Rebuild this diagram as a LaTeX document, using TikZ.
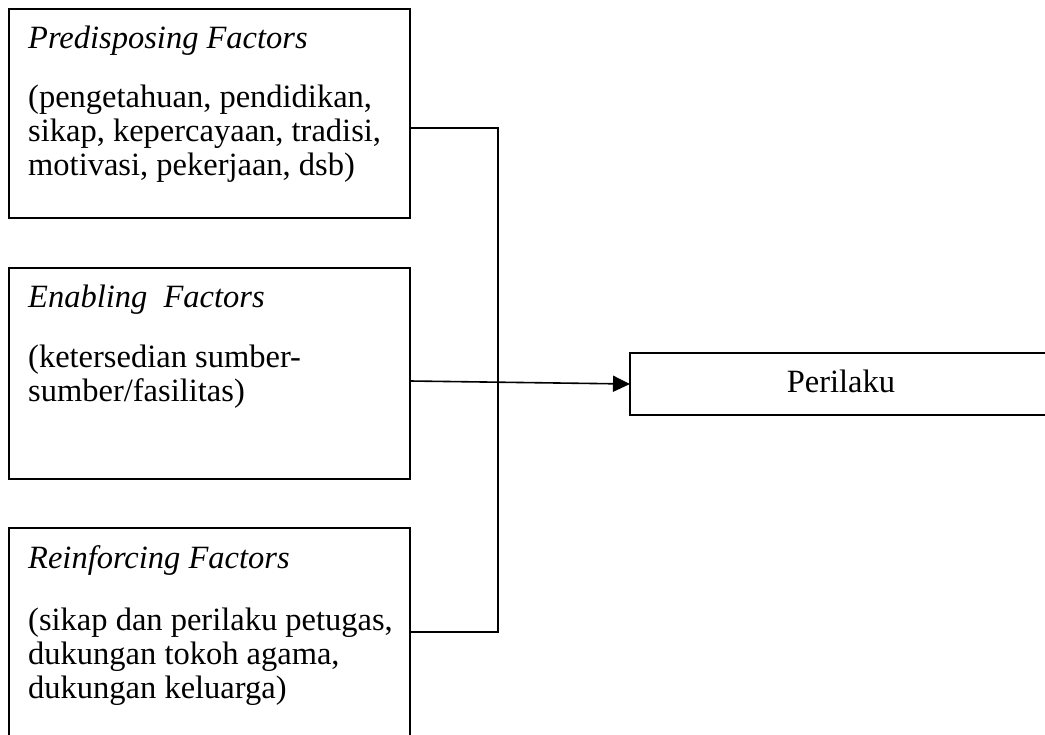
\documentclass[tikz,border=0pt]{standalone}
\usepackage{fontspec}
\setmainfont{Liberation Serif}
\usetikzlibrary{arrows.meta}
\tikzset{
  box/.style={draw=black, line width=1.6pt, rectangle, inner sep=0pt, outer sep=0pt},
  txt/.style={anchor=base west, inner sep=0pt, font=\fontsize{32.5}{35}\selectfont},
  ttl/.style={txt, font=\fontsize{32.5}{35}\selectfont\itshape},
  conn/.style={draw=black, line width=1.6pt},
}
\begin{document}
\begin{tikzpicture}[x=1pt, y=-1pt]
\useasboundingbox (0,0) rectangle (1045,735);
\clip (0,0) rectangle (1045,735);
% boxes
\node[box, minimum width=401pt, minimum height=209pt] (b1) at (209.5,113.5) {};
\node[box, minimum width=401pt, minimum height=211pt] (b2) at (209.5,373.5) {};
\node[box, minimum width=401pt, minimum height=240pt] (b3) at (209.5,648) {};
\node[box, minimum width=440pt, minimum height=62pt] (out) at (850,384) {};
% texts box 1
\node[ttl] (t1) at (28,49) {Predisposing Factors};
\node[txt] (t1a) at (28,108) {(pengetahuan, pendidikan,};
\node[txt] (t1b) at (28,142) {sikap, kepercayaan, tradisi,};
\node[txt] (t1c) at (28,176) {motivasi, pekerjaan, dsb)};
% texts box 2
\node[ttl] (t2) at (28,308) {Enabling\ \ Factors};
\node[txt] (t2a) at (28,368) {(ketersedian sumber-};
\node[txt] (t2b) at (28,402) {sumber/fasilitas)};
% texts box 3
\node[ttl] (t3) at (28,568) {Reinforcing Factors};
\node[txt] (t3a) at (28,630) {(sikap dan perilaku petugas,};
\node[txt] (t3b) at (28,664) {dukungan tokoh agama,};
\node[txt] (t3c) at (28,698) {dukungan keluarga)};
% output text
\node[txt, anchor=base] (p) at (841,393) {Perilaku};
% connectors
\coordinate (j1) at (498,128);
\coordinate (j3) at (498,632);
\coordinate (m) at (410,381);
\draw[conn] (b1.east |- j1) -- (j1) -- (j3) -- (b3.east |- j3);
\draw[conn, -{Triangle[length=17pt,width=16pt]}] (b2.east |- m) -- (out.west);
\end{tikzpicture}
\end{document}
